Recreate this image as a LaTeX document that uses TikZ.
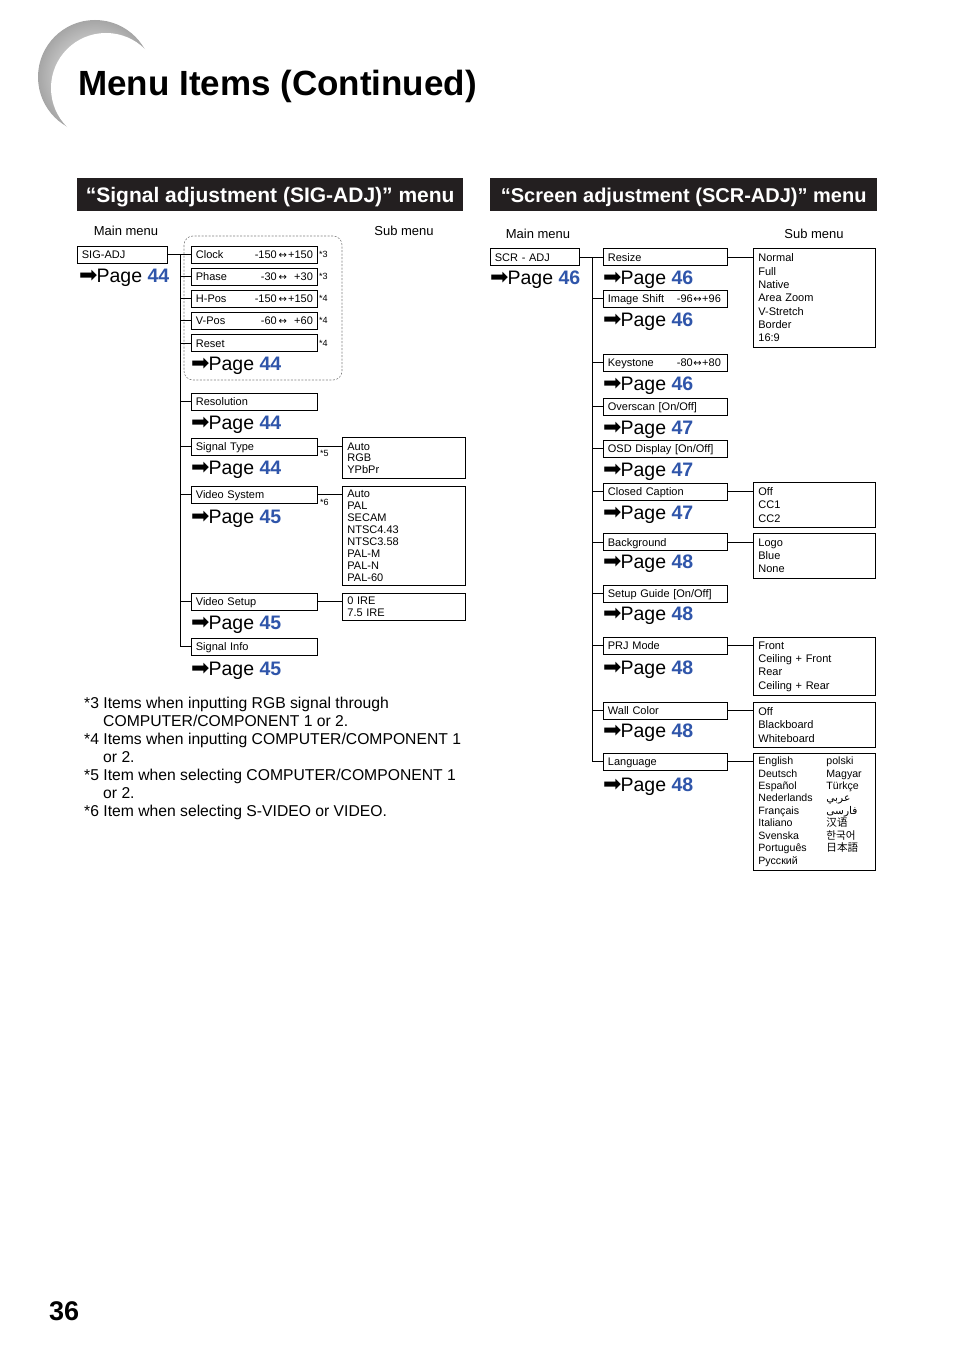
\documentclass[tikz,border=0pt]{standalone}
\usepackage{fontspec}
\setmainfont{Liberation Sans}
\newfontfamily\symfont{DejaVu Sans}
\newfontfamily\arabicfont[Script=Arabic]{DejaVu Sans}
\newfontfamily\zhfont{Noto Sans CJK SC}
\newfontfamily\kofont{Noto Sans CJK KR}
\newfontfamily\jafont{Noto Sans CJK JP}
\TeXXeTstate=1
\usetikzlibrary{positioning}
\definecolor{pageblue}{RGB}{47,85,170}
\definecolor{barblack}{RGB}{35,31,32}
\newcommand{\pg}[1]{{\symfont\fontsize{22}{22}\selectfont ➡}\kern-1pt Page {\bfseries\color{pageblue}#1}}
\newcommand{\rng}[2]{\makebox[24pt][r]{#1}\,{\symfont\fontsize{10}{10}\selectfont ↔}\,\makebox[24pt][r]{#2}}
\newcommand{\rngs}[2]{#1\kern0.5pt{\symfont\fontsize{10}{10}\selectfont ↔}\kern0.5pt#2\kern2pt}
\tikzset{
  item/.style={draw, line width=0.8pt, anchor=west, minimum height=17pt, text width=#1,
    inner xsep=4.5pt, inner ysep=0pt, text height=8.5pt, text depth=0.5pt, align=left,
    font=\fontsize{11}{12}\selectfont},
  item/.default=117pt,
  sub/.style={draw, line width=0.8pt, anchor=north west, text width=113pt, inner xsep=5pt,
    inner ysep=0pt, align=left, font=\fontsize{11}{#1}\selectfont},
  sub/.default=13pt,
  page/.style={anchor=base west, inner sep=0pt, font=\fontsize{19.5}{20}\selectfont},
  lbl/.style={anchor=base, inner sep=0pt, font=\fontsize{13}{13}\selectfont},
  fnref/.style={anchor=base west, inner sep=0pt, font=\fontsize{9}{9}\selectfont},
  bar/.style={fill=barblack, text=white, anchor=north west, minimum width=#1, minimum height=33pt,
    inner sep=0pt, text height=15pt, text depth=0pt, font=\fontsize{21}{21}\selectfont\bfseries},
  link/.style={line width=0.8pt},
  boldlink/.style={line width=1.8pt}
}
\begin{document}
\begin{tikzpicture}[x=1pt,y=-1pt]
\useasboundingbox[fill=white] (0,0) rectangle (954,1354);
\shade[inner color=white, outer color=gray!70] (95,77) circle (57);
\fill[white] (106,88) circle (55);
\node[anchor=base west, inner sep=0pt, font=\fontsize{35}{35}\selectfont\bfseries] (title) at (78,95) {Menu Items (Continued)};
\node[bar=386pt] (sigbar) at (77,178) {“Signal adjustment (SIG-ADJ)” menu};
\node[bar=387pt, font=\fontsize{20}{20}\selectfont\bfseries] (scrbar) at (490,178) {“Screen adjustment (SCR-ADJ)” menu};
\node[lbl] (sigmain) at (126,235.5) {Main menu};
\node[lbl] (sigsub) at (404,235.5) {Sub menu};
\node[lbl] (scrmain) at (538,238.5) {Main menu};
\node[lbl] (scrsub) at (814,238.5) {Sub menu};

\draw[gray, line width=0.6pt, dash pattern=on 2pt off 1.5pt, rounded corners=9pt] (184,236) rectangle (342,380);
\node[item=81pt] (sigadj) at (77,254.5) {SIG-ADJ};
\node[page] (sigadjpg) at (79,282) {\pg{44}};
\node[item] (clock) at (191,254.5) {Clock\hfill\rng{-150}{+150}};
\node[item] (phase) at (191,276.5) {Phase\hfill\rng{-30}{+30}};
\node[item] (hpos) at (191,298.5) {H-Pos\hfill\rng{-150}{+150}};
\node[item] (vpos) at (191,320.5) {V-Pos\hfill\rng{-60}{+60}};
\node[item] (reset) at (191,343) {Reset};
\node[page] (resetpg) at (191,370) {\pg{44}};
\node[fnref] at (319,257.5) {*3};
\node[fnref] at (319,279.5) {*3};
\node[fnref] at (319,301.5) {*4};
\node[fnref] at (319,323.5) {*4};
\node[fnref] at (319,346.5) {*4};
\node[item] (resolution) at (191,401.5) {Resolution};
\node[page] (resolutionpg) at (191,429) {\pg{44}};
\node[item] (sigtype) at (191,446.5) {Signal Type};
\node[page] (sigtypepg) at (191,474) {\pg{44}};
\node[fnref] at (320,456) {*5};
\node[item] (vidsys) at (191,494.5) {Video System};
\node[page] (vidsyspg) at (191,523) {\pg{45}};
\node[fnref] at (320,505) {*6};
\node[item] (vidsetup) at (191,601.5) {Video Setup};
\node[page] (vidsetuppg) at (191,629) {\pg{45}};
\node[item] (siginfo) at (191,646.5) {Signal Info};
\node[page] (siginfopg) at (191,675) {\pg{45}};
\node[sub=11.5pt, minimum height=41pt] (sigtypesub) at (342,437) {Auto\\RGB\\YPbPr};
\node[sub=12.1pt, minimum height=99pt] (vidsyssub) at (342,486) {Auto\\PAL\\SECAM\\NTSC4.43\\NTSC3.58\\PAL-M\\PAL-N\\PAL-60};
\node[sub=12pt, minimum height=27pt] (vidsetupsub) at (342,593) {0 IRE\\7.5 IRE};

\coordinate (ltop) at (180,254.5);
\draw[link] (sigadj.east) -- (clock.west);
\draw[link] (ltop) |- (siginfo.west);
\foreach \n in {phase,hpos,vpos,reset,resolution,sigtype,vidsetup}
  \draw[link] (ltop |- \n.west) -- (\n.west);
\draw[boldlink] (ltop |- vidsys.west) -- (vidsys.west);
\draw[link] (sigtype.east) -- (sigtypesub.west |- sigtype.east);
\draw[boldlink] (vidsys.east) -- (vidsyssub.west |- vidsys.east);
\draw[link] (vidsetup.east) -- (vidsetupsub.west |- vidsetup.east);

\node[anchor=north west, inner sep=0pt, align=left, font=\fontsize{15.7}{18}\selectfont] (notes) at (84,697) {*3 Items when inputting RGB signal through\\\hspace*{19pt}COMPUTER/COMPONENT 1 or 2.\\[0pt]*4 Items when inputting COMPUTER/COMPONENT 1\\\hspace*{19pt}or 2.\\[0pt]*5 Item when selecting COMPUTER/COMPONENT 1\\\hspace*{19pt}or 2.\\[0pt]*6 Item when selecting S-VIDEO or VIDEO.};

\node[item=80pt] (scradj) at (490,257) {SCR - ADJ};
\node[page] (scradjpg) at (490,284) {\pg{46}};
\node[item=115pt] (resize) at (603,257) {Resize};
\node[page] (resizepg) at (603,284) {\pg{46}};
\node[item=115pt] (imgshift) at (603,298.5) {Image Shift\hfill\rngs{-96}{+96}};
\node[page] (imgshiftpg) at (603,326) {\pg{46}};
\node[item=115pt] (keystone) at (603,362.5) {Keystone\hfill\rngs{-80}{+80}};
\node[page] (keystonepg) at (603,390) {\pg{46}};
\node[item=115pt] (overscan) at (603,406.5) {Overscan [On/Off]};
\node[page] (overscanpg) at (603,434) {\pg{47}};
\node[item=115pt] (osd) at (603,448.5) {OSD Display [On/Off]};
\node[page] (osdpg) at (603,476) {\pg{47}};
\node[item=115pt] (caption) at (603,491.5) {Closed Caption};
\node[page] (captionpg) at (603,519) {\pg{47}};
\node[item=115pt] (background) at (603,542) {Background};
\node[page] (backgroundpg) at (603,568) {\pg{48}};
\node[item=115pt] (guide) at (603,593.5) {Setup Guide [On/Off]};
\node[page] (guidepg) at (603,620) {\pg{48}};
\node[item=115pt] (prjmode) at (603,645.5) {PRJ Mode};
\node[page] (prjmodepg) at (603,674) {\pg{48}};
\node[item=115pt] (wallcolor) at (603,710.5) {Wall Color};
\node[page] (wallcolorpg) at (603,737) {\pg{48}};
\node[item=115pt] (language) at (603,761.5) {Language};
\node[page] (languagepg) at (603,791) {\pg{48}};

\node[sub=13.3pt, minimum height=99pt, text width=112pt] (resizesub) at (753,248) {Normal\\Full\\Native\\Area Zoom\\V-Stretch\\Border\\16:9};
\node[sub=13.5pt, minimum height=45pt, text width=112pt] (captionsub) at (753,482) {Off\\CC1\\CC2};
\node[sub=13pt, minimum height=45pt, text width=112pt] (backgroundsub) at (753,533) {Logo\\Blue\\None};
\node[sub=13.3pt, minimum height=58pt, text width=112pt] (prjmodesub) at (753,637) {Front\\Ceiling + Front\\Rear\\Ceiling + Rear};
\node[sub=13.5pt, minimum height=45pt, text width=112pt] (wallcolorsub) at (753,702) {Off\\Blackboard\\Whiteboard};
\node[sub=12.4pt, minimum height=117pt, text width=112pt, font=\fontsize{10.6}{12.4}\selectfont] (languagesub) at (753,753) {%
\begin{tabular}{@{}p{68pt}@{}l@{}}
English & polski\\
Deutsch & Magyar\\
Español & Türkçe\\
Nederlands & {\arabicfont\beginR عربي\endR}\\
Français & {\arabicfont\beginR فارسی\endR}\\
Italiano & {\zhfont 汉语}\\
Svenska & {\kofont 한국어}\\
Português & {\jafont 日本語}\\
Русский &
\end{tabular}};

\coordinate (rtop) at (592,257);
\draw[link] (scradj.east) -- (resize.west);
\draw[link] (rtop) |- (language.west);
\foreach \n in {imgshift,keystone,overscan,osd,caption,background,guide,prjmode,wallcolor}
  \draw[link] (rtop |- \n.west) -- (\n.west);
\foreach \n in {resize,caption,background,prjmode,wallcolor,language}
  \draw[link] (\n.east) -- (\n sub.west |- \n.east);

\node[anchor=base west, inner sep=0pt, font=\fontsize{27}{27}\selectfont\bfseries] (pagenum) at (49,1320) {36};
\end{tikzpicture}
\end{document}
